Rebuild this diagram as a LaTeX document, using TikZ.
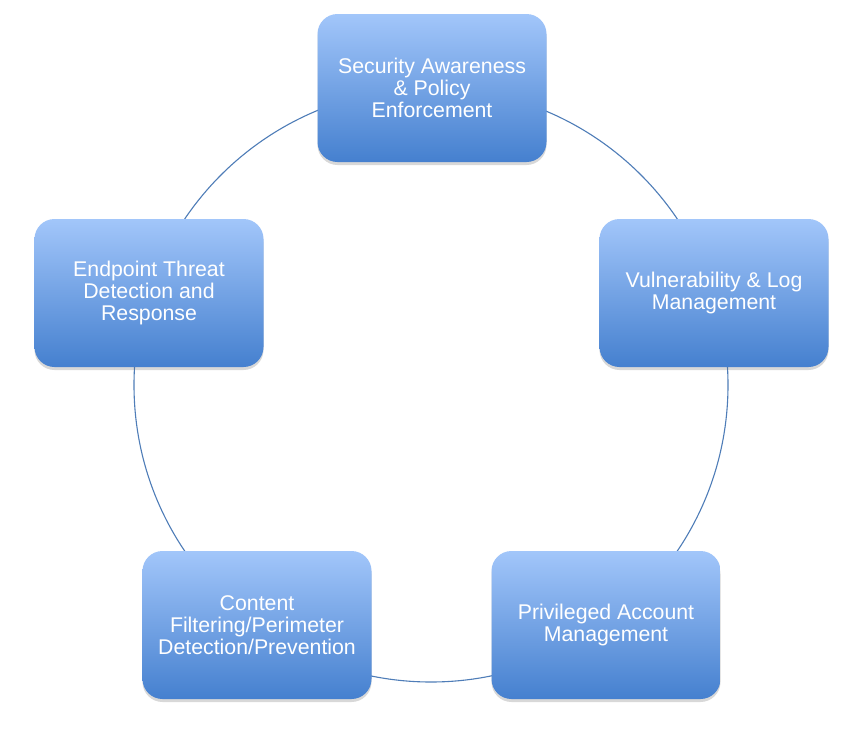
\documentclass[tikz,border=0pt]{standalone}
\usepackage{fontspec}
\setmainfont{Liberation Sans}
\usetikzlibrary{shadows}
\definecolor{boxtop}{HTML}{A2C6FA}
\definecolor{boxbot}{HTML}{4580CF}
\definecolor{ringc}{HTML}{4F7DB8}
\begin{document}
\begin{tikzpicture}[x=1pt,y=-1pt,
  pbox/.style={rectangle, rounded corners=20pt, minimum width=229pt, minimum height=148pt,
    top color=boxtop, bottom color=boxbot, draw=none,
    drop shadow={shadow xshift=0pt, shadow yshift=-3pt, opacity=0.25, fill=black!60},
    text=white, align=center, font=\fontsize{21.3}{22.3}\selectfont, inner sep=4pt},
  ring/.style={draw=ringc, line width=1.1pt}]
\useasboundingbox (0,0) rectangle (865,731);
\fill[white] (0,0) rectangle (865,731);
\coordinate (c) at (431,385);
\draw[ring] (c) circle[radius=297];
\node[pbox] (top) at (432,88) {Security Awareness\\ \& Policy\\ Enforcement};
\node[pbox] (right) at (714,293) {Vulnerability \& Log\\ Management};
\node[pbox] (bright) at (606,625) {Privileged Account\\ Management};
\node[pbox] (bleft) at (257,625) {Content\\ Filtering/Perimeter\\ Detection/Prevention};
\node[pbox] (left) at (149,293) {Endpoint Threat\\ Detection and\\ Response};
\end{tikzpicture}
\end{document}
